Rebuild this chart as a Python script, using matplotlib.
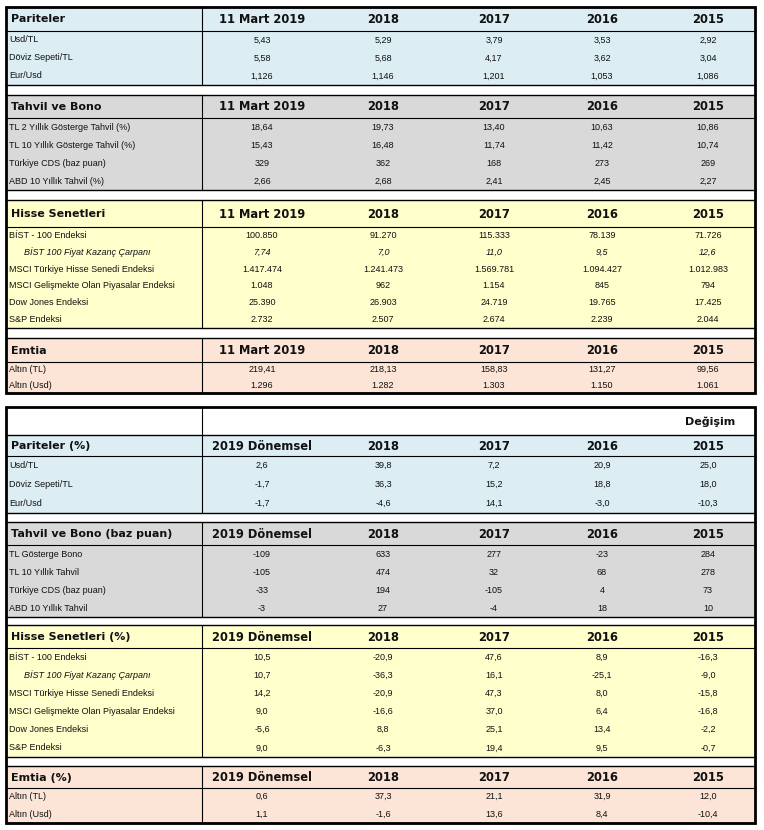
import matplotlib.pyplot as plt
from matplotlib.patches import Rectangle

# ---- data (as shown in the table) ----
columns_top = ["11 Mart 2019", "2018", "2017", "2016", "2015"]
columns_bottom = ["2019 Dönemsel", "2018", "2017", "2016", "2015"]

parite_labels = ["Usd/TL", "Döviz Sepeti/TL", "Eur/Usd"]
parite_values = [
    ["5,43", "5,29", "3,79", "3,53", "2,92"],
    ["5,58", "5,68", "4,17", "3,62", "3,04"],
    ["1,126", "1,146", "1,201", "1,053", "1,086"],
]
tahvil_labels = ["TL 2 Yıllık Gösterge Tahvil (%)", "TL 10 Yıllık Gösterge Tahvil (%)",
                 "Türkiye CDS (baz puan)", "ABD 10 Yıllık Tahvil (%)"]
tahvil_values = [
    ["18,64", "19,73", "13,40", "10,63", "10,86"],
    ["15,43", "16,48", "11,74", "11,42", "10,74"],
    ["329", "362", "168", "273", "269"],
    ["2,66", "2,68", "2,41", "2,45", "2,27"],
]
hisse_labels = ["BİST - 100 Endeksi", "BİST 100 Fiyat Kazanç Çarpanı",
                "MSCI Türkiye Hisse Senedi Endeksi",
                "MSCI Gelişmekte Olan Piyasalar Endeksi",
                "Dow Jones Endeksi", "S&P Endeksi"]
hisse_values = [
    ["100.850", "91.270", "115.333", "78.139", "71.726"],
    ["7,74", "7,0", "11,0", "9,5", "12,6"],
    ["1.417.474", "1.241.473", "1.569.781", "1.094.427", "1.012.983"],
    ["1.048", "962", "1.154", "845", "794"],
    ["25.390", "26.903", "24.719", "19.765", "17.425"],
    ["2.732", "2.507", "2.674", "2.239", "2.044"],
]
emtia_labels = ["Altın (TL)", "Altın (Usd)"]
emtia_values = [
    ["219,41", "218,13", "158,83", "131,27", "99,56"],
    ["1.296", "1.282", "1.303", "1.150", "1.061"],
]

parite_chg = [
    ["2,6", "39,8", "7,2", "20,9", "25,0"],
    ["-1,7", "36,3", "15,2", "18,8", "18,0"],
    ["-1,7", "-4,6", "14,1", "-3,0", "-10,3"],
]
tahvil_chg_labels = ["TL Gösterge Bono", "TL 10 Yıllık Tahvil",
                     "Türkiye CDS (baz puan)", "ABD 10 Yıllık Tahvil"]
tahvil_chg = [
    ["-109", "633", "277", "-23", "284"],
    ["-105", "474", "32", "68", "278"],
    ["-33", "194", "-105", "4", "73"],
    ["-3", "27", "-4", "18", "10"],
]
hisse_chg = [
    ["10,5", "-20,9", "47,6", "8,9", "-16,3"],
    ["10,7", "-36,3", "16,1", "-25,1", "-9,0"],
    ["14,2", "-20,9", "47,3", "8,0", "-15,8"],
    ["9,0", "-16,6", "37,0", "6,4", "-16,8"],
    ["-5,6", "8,8", "25,1", "13,4", "-2,2"],
    ["9,0", "-6,3", "19,4", "9,5", "-0,7"],
]
emtia_chg = [
    ["0,6", "37,3", "21,1", "31,9", "12,0"],
    ["1,1", "-1,6", "13,6", "8,4", "-10,4"],
]

# ---- layout (pixel coords) ----
BLUE = "#dcedf3"
GRAY = "#d9d9d9"
YELLOW = "#ffffcc"
PEACH = "#fce4d6"
X0, X1, XSPLIT = 6, 755, 202
COL_X = [262, 383, 494, 602, 708]
TXT = "#111111"

fig = plt.figure(figsize=(7.64, 8.30), dpi=100)
ax = fig.add_axes([0, 0, 1, 1])
ax.set_xlim(0, 764)
ax.set_ylim(830, 0)
ax.axis("off")


def section(title, cols, labels, values, top, head_bot, bot, color,
            italic_row=None, italic_vals=True):
    ax.add_patch(Rectangle((X0, top), X1 - X0, bot - top, facecolor=color, edgecolor="none"))
    ax.plot([X0, X1], [top, top], color="black", lw=1.0)
    ax.plot([X0, X1], [head_bot, head_bot], color="black", lw=0.8)
    ax.plot([X0, X1], [bot, bot], color="black", lw=1.0)
    ax.plot([XSPLIT, XSPLIT], [top, bot], color="black", lw=0.8)
    hy = (top + head_bot) / 2 + 0.5
    ax.text(11, hy, title, fontsize=8, fontweight="bold", ha="left", va="center",
            color=TXT, family="DejaVu Sans")
    for x, c in zip(COL_X, cols):
        ax.text(x, hy, c, fontsize=8.3, fontweight="bold", ha="center", va="center",
                color=TXT, family="DejaVu Sans")
    n = len(labels)
    rh = (bot - head_bot) / n
    for i, (lab, row) in enumerate(zip(labels, values)):
        y = head_bot + rh * (i + 0.5)
        it = i == italic_row
        lx = 24 if it else 9
        ax.text(lx, y, lab, fontsize=6.5, ha="left", va="center", color=TXT,
                family="Liberation Sans", style="italic" if it else "normal")
        vstyle = "italic" if (it and italic_vals) else "normal"
        for x, v in zip(COL_X, row):
            ax.text(x, y, v, fontsize=6.5, ha="center", va="center", color=TXT,
                    family="Liberation Sans", style=vstyle)


# top table
section("Pariteler", columns_top, parite_labels, parite_values, 7, 31, 85, BLUE)
section("Tahvil ve Bono", columns_top, tahvil_labels, tahvil_values, 95, 118, 190, GRAY)
section("Hisse Senetleri", columns_top, hisse_labels, hisse_values, 200, 227, 328, YELLOW, 1)
section("Emtia", columns_top, emtia_labels, emtia_values, 338, 362, 393, PEACH)
ax.add_patch(Rectangle((X0, 7), X1 - X0, 393 - 7, facecolor="none", edgecolor="black", lw=2.0))

# bottom table
ax.plot([XSPLIT, XSPLIT], [407, 435], color="black", lw=0.8)
ax.text(710, 422, "Değişim", fontsize=8, fontweight="bold", ha="center", va="center",
        color=TXT, family="DejaVu Sans")
section("Pariteler (%)", columns_bottom, parite_labels, parite_chg, 435, 456, 513, BLUE)
section("Tahvil ve Bono (baz puan)", columns_bottom, tahvil_chg_labels, tahvil_chg, 522, 545, 617, GRAY)
section("Hisse Senetleri (%)", columns_bottom, hisse_labels, hisse_chg, 625, 648, 757, YELLOW, 1, False)
section("Emtia (%)", columns_bottom, emtia_labels, emtia_chg, 766, 788, 823, PEACH)
ax.add_patch(Rectangle((X0, 407), X1 - X0, 823 - 407, facecolor="none", edgecolor="black", lw=2.0))

fig.savefig("out.png", dpi=100)
